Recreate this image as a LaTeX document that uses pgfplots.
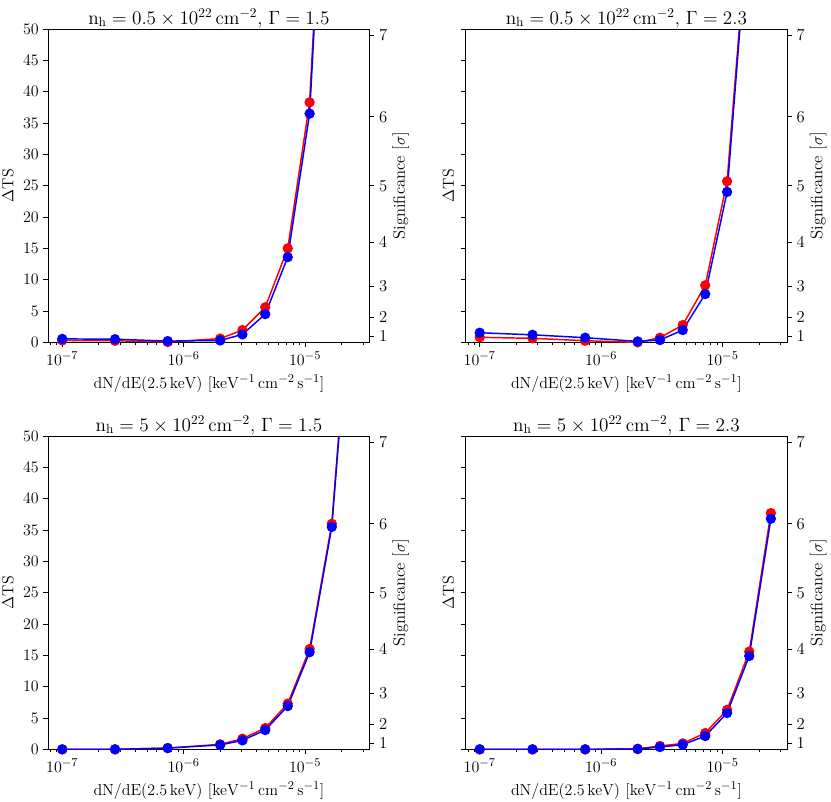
\documentclass[border=0pt]{standalone}
\usepackage{pgfplots}
\pgfplotsset{compat=1.18}

\pgfplotsset{
  scale only axis, width=241pt, height=235pt,
  tick align=outside, major tick length=3.6pt, minor tick length=2pt,
  tick style={black, line width=0.6pt},
  axis line style={line width=0.6pt},
  title style={yshift=-8.5pt, font=\fontsize{14}{16}\selectfont},
}
\newcommand{\xlab}{$\mathrm{dN/dE(2.5\,keV)\ [keV^{-1}\,cm^{-2}\,s^{-1}]}$}

\begin{document}
\begin{tikzpicture}[font=\fontsize{12.5}{14.5}\selectfont]
\useasboundingbox (0,0) rectangle (623.25pt,-600.75pt);

% top left
\begin{axis}[at={(36.2pt,-21.75pt)}, anchor=north west,
  xmode=log, xmin=7.67e-8, xmax=3.4e-5, ymin=0, ymax=50, ytick={0,5,...,50},
  xtick pos=bottom, ytick pos=left, xlabel={\xlab}, ylabel={$\Delta\mathrm{TS}$},
  ylabel style={at={(axis description cs:-0.094,0.5)}, anchor=south},
  title={$\mathrm{n_h = 0.5\times10^{22}\,cm^{-2}}$, $\Gamma = 1.5$}]
\addplot[red, line width=1.1pt, mark=*, mark size=3.3pt] coordinates {
 (1e-7,0.3) (2.72e-7,0.25) (7.39e-7,0.05) (2.0e-6,0.6) (3.05e-6,1.96)
 (4.7e-6,5.6) (7.2e-6,15.0) (1.09e-5,38.3) (1.66e-5,105) (2.5e-5,220)};
\addplot[blue, line width=1.1pt, mark=*, mark size=3.3pt] coordinates {
 (1e-7,0.55) (2.72e-7,0.5) (7.39e-7,0.2) (2.0e-6,0.3) (3.05e-6,1.27)
 (4.7e-6,4.5) (7.2e-6,13.6) (1.09e-5,36.5) (1.66e-5,103) (2.5e-5,215)};
\end{axis}
\begin{axis}[at={(36.2pt,-21.75pt)}, anchor=north west,
  xmin=0, xmax=1, ymin=0, ymax=50, axis x line=none, axis y line*=right,
  ytick={1,4,9,16,25,36,49}, yticklabels={1,2,3,4,5,6,7},
  ylabel={Significance [$\sigma$]}, ylabel shift=-3pt]
\addplot[draw=none] coordinates {(0.5,1)};
\end{axis}

% top right
\begin{axis}[at={(349.3pt,-21.75pt)}, anchor=north west,
  xmode=log, xmin=7.67e-8, xmax=3.4e-5, ymin=0, ymax=50, ytick={0,5,...,50},
  yticklabels={}, xtick pos=bottom, ytick pos=left, xlabel={\xlab},
  ylabel={$\Delta\mathrm{TS}$},
  ylabel style={at={(axis description cs:-0.022,0.5)}, anchor=south},
  title={$\mathrm{n_h = 0.5\times10^{22}\,cm^{-2}}$, $\Gamma = 2.3$}]
\addplot[red, line width=1.1pt, mark=*, mark size=3.3pt] coordinates {
 (1e-7,0.8) (2.72e-7,0.64) (7.39e-7,0.26) (2.0e-6,0.0) (3.05e-6,0.74)
 (4.7e-6,2.76) (7.2e-6,9.1) (1.09e-5,25.7) (1.66e-5,70) (2.5e-5,160)};
\addplot[blue, line width=1.1pt, mark=*, mark size=3.3pt] coordinates {
 (1e-7,1.53) (2.72e-7,1.2) (7.39e-7,0.74) (2.0e-6,0.15) (3.05e-6,0.37)
 (4.7e-6,1.96) (7.2e-6,7.7) (1.09e-5,24.0) (1.66e-5,69) (2.5e-5,155)};
\end{axis}
\begin{axis}[at={(349.3pt,-21.75pt)}, anchor=north west,
  xmin=0, xmax=1, ymin=0, ymax=50, axis x line=none, axis y line*=right,
  ytick={1,4,9,16,25,36,49}, yticklabels={1,2,3,4,5,6,7},
  ylabel={Significance [$\sigma$]}, ylabel shift=-3pt]
\addplot[draw=none] coordinates {(0.5,1)};
\end{axis}

% bottom left
\begin{axis}[at={(36.2pt,-327pt)}, anchor=north west,
  xmode=log, xmin=7.67e-8, xmax=3.4e-5, ymin=0, ymax=50, ytick={0,5,...,50},
  xtick pos=bottom, ytick pos=left, xlabel={\xlab}, ylabel={$\Delta\mathrm{TS}$},
  ylabel style={at={(axis description cs:-0.094,0.5)}, anchor=south},
  title={$\mathrm{n_h = 5\times10^{22}\,cm^{-2}}$, $\Gamma = 1.5$}]
\addplot[red, line width=1.1pt, mark=*, mark size=3.3pt] coordinates {
 (1e-7,0) (2.72e-7,0) (7.39e-7,0.2) (2.0e-6,0.8) (3.05e-6,1.7)
 (4.7e-6,3.4) (7.2e-6,7.3) (1.09e-5,16.0) (1.66e-5,36.0) (2.5e-5,80)};
\addplot[blue, line width=1.1pt, mark=*, mark size=3.3pt] coordinates {
 (1e-7,0) (2.72e-7,0) (7.39e-7,0.2) (2.0e-6,0.7) (3.05e-6,1.43)
 (4.7e-6,3.08) (7.2e-6,6.9) (1.09e-5,15.5) (1.66e-5,35.5) (2.5e-5,79)};
\end{axis}
\begin{axis}[at={(36.2pt,-327pt)}, anchor=north west,
  xmin=0, xmax=1, ymin=0, ymax=50, axis x line=none, axis y line*=right,
  ytick={1,4,9,16,25,36,49}, yticklabels={1,2,3,4,5,6,7},
  ylabel={Significance [$\sigma$]}, ylabel shift=-3pt]
\addplot[draw=none] coordinates {(0.5,1)};
\end{axis}

% bottom right
\begin{axis}[at={(349.3pt,-327pt)}, anchor=north west,
  xmode=log, xmin=7.67e-8, xmax=3.4e-5, ymin=0, ymax=50, ytick={0,5,...,50},
  yticklabels={}, xtick pos=bottom, ytick pos=left, xlabel={\xlab},
  ylabel={$\Delta\mathrm{TS}$},
  ylabel style={at={(axis description cs:-0.022,0.5)}, anchor=south},
  title={$\mathrm{n_h = 5\times10^{22}\,cm^{-2}}$, $\Gamma = 2.3$}]
\addplot[red, line width=1.1pt, mark=*, mark size=3.3pt] coordinates {
 (1e-7,0) (2.72e-7,0) (7.39e-7,0) (2.0e-6,0.1) (3.05e-6,0.53)
 (4.7e-6,0.95) (7.2e-6,2.6) (1.09e-5,6.3) (1.66e-5,15.6) (2.5e-5,37.7)};
\addplot[blue, line width=1.1pt, mark=*, mark size=3.3pt] coordinates {
 (1e-7,0) (2.72e-7,0) (7.39e-7,0) (2.0e-6,0.05) (3.05e-6,0.37)
 (4.7e-6,0.74) (7.2e-6,2.12) (1.09e-5,5.8) (1.66e-5,14.9) (2.5e-5,36.8)};
\end{axis}
\begin{axis}[at={(349.3pt,-327pt)}, anchor=north west,
  xmin=0, xmax=1, ymin=0, ymax=50, axis x line=none, axis y line*=right,
  ytick={1,4,9,16,25,36,49}, yticklabels={1,2,3,4,5,6,7},
  ylabel={Significance [$\sigma$]}, ylabel shift=-3pt]
\addplot[draw=none] coordinates {(0.5,1)};
\end{axis}

\end{tikzpicture}
\end{document}
